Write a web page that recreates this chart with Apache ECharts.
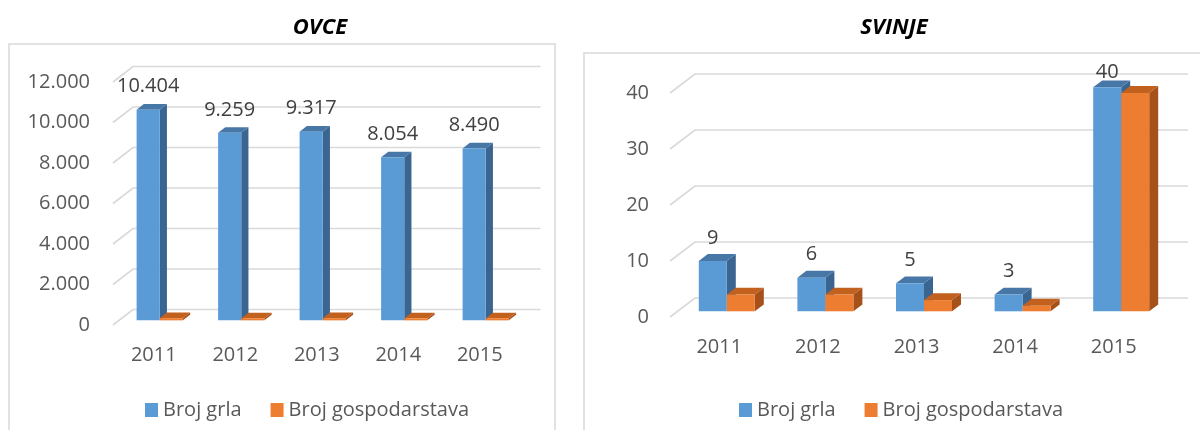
<!DOCTYPE html>
<html>
<head>
<meta charset="utf-8">
<script src="https://cdn.jsdelivr.net/npm/echarts@6/dist/echarts.min.js"></script>
<style>html,body{margin:0;padding:0;background:#fff}#c{width:1200px;height:430px}</style>
</head>
<body>
<div id="c"></div>
<script>
const categories = ['2011', '2012', '2013', '2014', '2015'];
const ovceGrla = [10404, 9259, 9317, 8054, 8490];
const ovceGosp = [110, 105, 108, 100, 104];
const svinjeGrla = [9, 6, 5, 3, 40];
const svinjeGosp = [3, 3, 2, 1, 39];
const ovceTicks = [0, 2000, 4000, 6000, 8000, 10000, 12000];
const svinjeTicks = [0, 10, 20, 30, 40];
const seriesNames = ['Broj grla', 'Broj gospodarstava'];

const FONT = '"Open Sans", "Noto Sans", sans-serif';
const TXT = '#595959';
const GRIDC = '#d9d9d9';
const DEPTH = [{dx: 20, dy: 15.5}, {dx: 25, dy: 19}];
const COLORS = [
  {front: '#5B9BD5', top: '#4777A6', side: '#3B6591'},
  {front: '#ED7D31', top: '#C2601E', side: '#A6501A'}
];

function fmtDot(v) { return String(v).replace(/\B(?=(\d{3})+(?!\d))/g, '.'); }

function gridRender(gi) {
  return function (params, api) {
    const cs = params.coordSys;
    const d = DEPTH[gi];
    const y = api.coord([0, api.value(1)])[1];
    return {
      type: 'polyline',
      shape: {points: [[cs.x, y], [cs.x + d.dx, y - d.dy], [cs.x + cs.width + d.dx, y - d.dy]]},
      style: {stroke: GRIDC, lineWidth: 1.6, fill: null},
      silent: true
    };
  };
}

function barRender(gi, sIdx, withLabel, fmt) {
  return function (params, api) {
    const cs = params.coordSys;
    const cat = api.value(0), v = api.value(1);
    const d = DEPTH[gi];
    const base = api.coord([cat, 0]);
    const topP = api.coord([cat, v]);
    const band = api.size([1, 0])[0];
    const w = band * 0.284;
    const fx = 0.3 * d.dx, fy = 0.3 * d.dy;
    const bdx = 0.36 * d.dx, bdy = 0.36 * d.dy;
    const x0 = base[0] - w + sIdx * w + fx;
    const x1 = x0 + w;
    const yb = base[1] - fy;
    const yt = topP[1] - fy;
    const c = COLORS[sIdx];
    const children = [
      {type: 'polygon', shape: {points: [[x1, yb], [x1, yt], [x1 + bdx, yt - bdy], [x1 + bdx, yb - bdy]]}, style: {fill: c.side}},
      {type: 'polygon', shape: {points: [[x0, yt], [x1, yt], [x1 + bdx, yt - bdy], [x0 + bdx, yt - bdy]]}, style: {fill: c.top}},
      {type: 'rect', shape: {x: x0, y: yt, width: w, height: Math.max(yb - yt, 0)}, style: {fill: c.front}}
    ];
    if (withLabel) {
      const ly = Math.max(yt - 23, cs.y - 21);
      children.push({
        type: 'text',
        x: (x0 + x1) / 2, y: ly,
        style: {text: fmt(v), fill: '#404040', font: '20px ' + FONT, align: 'center', verticalAlign: 'middle', textAlign: 'center', textVerticalAlign: 'middle'}
      });
    }
    return {type: 'group', children: children};
  };
}

const grids = [
  {left: 113, top: 82, width: 407.5, height: 243},
  {left: 670, top: 93, width: 493, height: 224}
];
const xAxes = [0, 1].map(i => ({
  type: 'category', gridIndex: i, data: categories,
  axisLine: {show: false}, axisTick: {show: false}, splitLine: {show: false},
  axisLabel: {color: TXT, fontSize: 20, fontFamily: FONT, margin: 20}
}));
const yAxes = [
  {type: 'value', gridIndex: 0, min: 0, max: 12000, interval: 2000,
   axisLine: {show: false}, axisTick: {show: false}, splitLine: {show: false},
   axisLabel: {color: TXT, fontSize: 20, fontFamily: FONT, margin: 23, formatter: fmtDot}},
  {type: 'value', gridIndex: 1, min: 0, max: 40, interval: 10,
   axisLine: {show: false}, axisTick: {show: false}, splitLine: {show: false},
   axisLabel: {color: TXT, fontSize: 20, fontFamily: FONT, margin: 21}}
];

const series = [
  {type: 'custom', xAxisIndex: 0, yAxisIndex: 0, renderItem: gridRender(0), data: ovceTicks.map(t => [0, t]), z: 1, silent: true},
  {type: 'custom', xAxisIndex: 1, yAxisIndex: 1, renderItem: gridRender(1), data: svinjeTicks.map(t => [0, t]), z: 1, silent: true},
  {type: 'custom', name: seriesNames[0], xAxisIndex: 0, yAxisIndex: 0, itemStyle: {color: COLORS[0].front},
   renderItem: barRender(0, 0, true, fmtDot), data: ovceGrla.map((v, i) => [i, v]), encode: {x: 0, y: 1}, z: 2},
  {type: 'custom', name: seriesNames[1], xAxisIndex: 0, yAxisIndex: 0, itemStyle: {color: COLORS[1].front},
   renderItem: barRender(0, 1, false, fmtDot), data: ovceGosp.map((v, i) => [i, v]), encode: {x: 0, y: 1}, z: 3},
  {type: 'custom', name: seriesNames[0], xAxisIndex: 1, yAxisIndex: 1, itemStyle: {color: COLORS[0].front},
   renderItem: barRender(1, 0, true, String), data: svinjeGrla.map((v, i) => [i, v]), encode: {x: 0, y: 1}, z: 2},
  {type: 'custom', name: seriesNames[1], xAxisIndex: 1, yAxisIndex: 1, itemStyle: {color: COLORS[1].front},
   renderItem: barRender(1, 1, false, String), data: svinjeGosp.map((v, i) => [i, v]), encode: {x: 0, y: 1}, z: 3}
];

const legendBase = {
  data: seriesNames, icon: 'rect', itemWidth: 13, itemHeight: 14, itemGap: 29, top: 395,
  textStyle: {color: TXT, fontSize: 20, fontFamily: FONT}, selectedMode: false
};

const option = {
  animation: false,
  backgroundColor: '#fff',
  grid: grids,
  xAxis: xAxes,
  yAxis: yAxes,
  legend: [Object.assign({left: 140}, legendBase), Object.assign({left: 734}, legendBase)],
  graphic: [
    {type: 'rect', shape: {x: 9, y: 44, width: 546, height: 420}, style: {fill: 'none', stroke: '#d9d9d9', lineWidth: 1.5}, z: -10, silent: true},
    {type: 'rect', shape: {x: 584, y: 53, width: 700, height: 420}, style: {fill: 'none', stroke: '#d9d9d9', lineWidth: 1.5}, z: -10, silent: true},
    {type: 'text', x: 320, y: 28, style: {text: 'OVCE', fill: '#000', font: 'italic bold 22px ' + FONT, align: 'center', verticalAlign: 'middle', textAlign: 'center', textVerticalAlign: 'middle'}},
    {type: 'text', x: 894, y: 28, style: {text: 'SVINJE', fill: '#000', font: 'italic bold 22px ' + FONT, align: 'center', verticalAlign: 'middle', textAlign: 'center', textVerticalAlign: 'middle'}}
  ],
  series: series
};

const chart = echarts.init(document.getElementById('c'), null, {renderer: 'canvas'});
chart.setOption(option);
</script>
</body>
</html>
